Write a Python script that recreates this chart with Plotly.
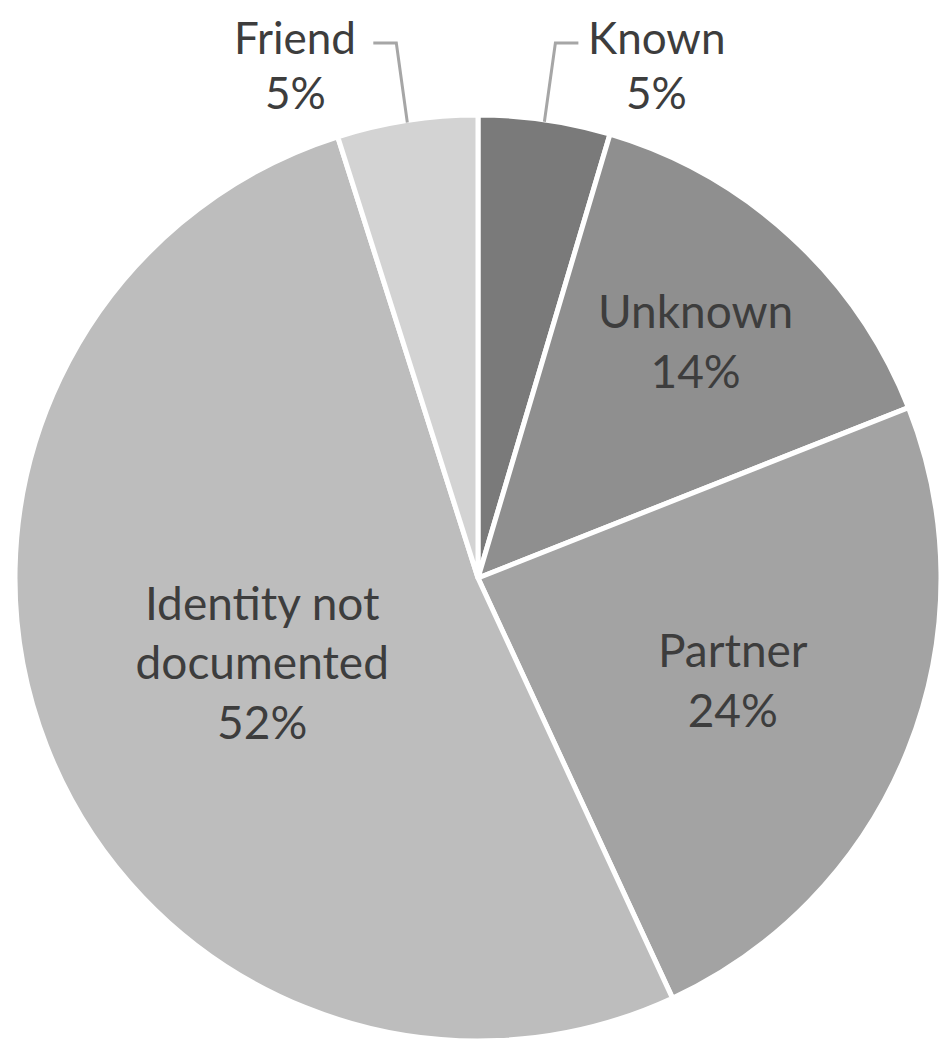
import math
import plotly.graph_objects as go

labels = ["Known", "Unknown", "Partner", "Identity not documented", "Friend"]
display_labels = ["Known", "Unknown", "Partner", "Identity not<br>documented", "Friend"]
values = [4.6, 14.4, 24.1, 52.0, 4.9]
pct_text = ["5%", "14%", "24%", "52%", "5%"]
colors = ["#7a7a7a", "#8f8f8f", "#a3a3a3", "#bdbdbd", "#d3d3d3"]
outside = ["Known", "Friend"]

W, H = 947, 1044
PAGE_OFFSET = 8  # default body margin of the html page
ML, MR, MT, MB = 7, 14, 107, 11
PW, PH = W - ML - MR, H - MT - MB
CX, CY = ML + PW / 2, MT + PH / 2
R = min(PW, PH) / 2 - 2
TEXT_COLOR = "#3d3d3d"
FONT = "Lato"
FS = 46
FS_OUT = 44

fig = go.Figure(go.Pie(
    labels=labels,
    values=values,
    text=[f"{d}<br>{p}" for d, p in zip(display_labels, pct_text)],
    texttemplate="%{text}",
    textposition=["none" if l in outside else "inside" for l in labels],
    insidetextorientation="horizontal",
    insidetextfont=dict(family=FONT, size=FS, color=TEXT_COLOR),
    marker=dict(colors=colors, line=dict(color="white", width=5)),
    sort=False,
    direction="clockwise",
    rotation=0,
    hole=0,
    showlegend=False,
    hoverinfo="label+percent",
))


def px_to_paper(x, y):
    return (x - ML) / PW, (H - MB - y) / PH


total = sum(values)
cum = 0.0
mids = {}
for l, v in zip(labels, values):
    mids[l] = (cum + v / 2) / total * 360.0
    cum += v

shapes = []
annotations = []
for l in outside:
    i = labels.index(l)
    ang = math.radians(mids[l])
    ex, ey = CX + R * math.sin(ang), CY - R * math.cos(ang)
    side = 1 if math.sin(ang) > 0 else -1
    ky = 43 - PAGE_OFFSET
    kx = ex + side * 11
    sx = kx + side * 23
    pts = [px_to_paper(sx, ky), px_to_paper(kx, ky), px_to_paper(ex, ey)]
    path = "M {} {} L {} {} L {} {}".format(pts[0][0], pts[0][1], pts[1][0], pts[1][1], pts[2][0], pts[2][1])
    shapes.append(dict(type="path", xref="paper", yref="paper", path=path,
                       line=dict(color="#a6a6a6", width=3)))
    tx = sx + side * 78
    lx, ly = px_to_paper(tx, 1)
    annotations.append(dict(xref="paper", yref="paper", x=lx, y=ly,
                            text=display_labels[i],
                            showarrow=False, xanchor="center", yanchor="top",
                            font=dict(family=FONT, size=FS_OUT, color=TEXT_COLOR)))
    px_, py_ = px_to_paper(tx, 92 - PAGE_OFFSET)
    annotations.append(dict(xref="paper", yref="paper", x=px_, y=py_,
                            text=pct_text[i],
                            showarrow=False, xanchor="center", yanchor="middle",
                            font=dict(family=FONT, size=FS_OUT, color=TEXT_COLOR)))

fig.update_layout(
    width=W, height=H,
    margin=dict(l=ML, r=MR, t=MT, b=MB),
    paper_bgcolor="white",
    plot_bgcolor="white",
    shapes=shapes,
    annotations=annotations,
)

fig.write_html("out.html")
